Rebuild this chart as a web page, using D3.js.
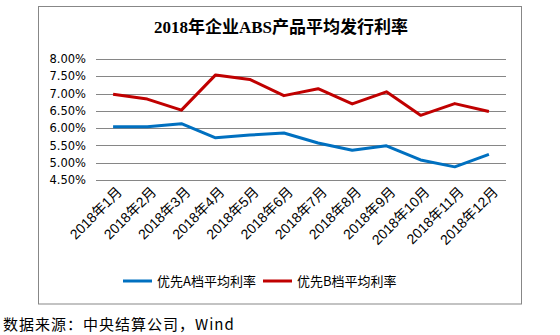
<!DOCTYPE html>
<html><head><meta charset="utf-8">
<script src="https://cdn.jsdelivr.net/npm/d3@7"></script>
<style>body{margin:0;background:#fff}svg{display:block}</style>
</head><body>
<svg id="c" width="560" height="335"></svg>
<script>
const categories = ["2018年1月","2018年2月","2018年3月","2018年4月","2018年5月","2018年6月","2018年7月","2018年8月","2018年9月","2018年10月","2018年11月","2018年12月"];
const seriesA = [6.04, 6.04, 6.13, 5.72, 5.80, 5.86, 5.57, 5.36, 5.49, 5.08, 4.88, 5.24];
const seriesB = [6.98, 6.84, 6.52, 7.54, 7.41, 6.94, 7.14, 6.70, 7.05, 6.37, 6.71, 6.48];
const yTicks = [4.5, 5.0, 5.5, 6.0, 6.5, 7.0, 7.5, 8.0];
const seriesNames = ["优先A档平均利率", "优先B档平均利率"];
const colors = ["#0070C0", "#C00000"];
const title = "2018年企业ABS产品平均发行利率";
const source = "数据来源：中央结算公司，Wind";

const svg = d3.select("#c");
svg.append("rect").attr("x",38.5).attr("y",6.5).attr("width",483).attr("height",297.5)
  .attr("fill","#fff").attr("stroke","#878787").attr("stroke-width",1);

svg.append("text").attr("x",281).attr("y",33).attr("text-anchor","middle")
  .attr("font-family","'Liberation Serif','Noto Sans CJK SC',serif").attr("font-weight","bold")
  .attr("font-size",17).attr("fill","#000").text(title);

const x = d3.scaleBand().domain(categories).range([96,506]);
const y = d3.scaleLinear().domain([4.5,8.0]).range([180,59]);

// gridlines
svg.append("g").selectAll("line").data(yTicks).join("line")
  .attr("x1",96).attr("x2",506).attr("y1",d=>Math.round(y(d))+0.5).attr("y2",d=>Math.round(y(d))+0.5)
  .attr("stroke","#868686").attr("stroke-width",1);

// y axis labels
const yAxis = d3.axisLeft(y).tickValues(yTicks).tickSize(0).tickPadding(0).tickFormat(d=>d.toFixed(2)+"%");
const gy = svg.append("g").attr("transform","translate(86,0)").call(yAxis);
gy.select(".domain").remove();
gy.selectAll("text").attr("font-family","'DejaVu Sans',sans-serif").attr("font-size",11.5).attr("fill","#000");

// x axis labels
const xAxis = d3.axisBottom(x).tickSize(0).tickPadding(0);
const gx = svg.append("g").attr("transform","translate(3,186)").call(xAxis);
gx.select(".domain").remove();
gx.selectAll("text").attr("font-family","'Liberation Sans','Noto Sans CJK SC',sans-serif").attr("font-size",14).attr("fill","#000")
  .attr("text-anchor","end").attr("dy","0.7em").attr("dx","0")
  .attr("transform","rotate(-45)");

const line = d3.line().x((d,i)=>x(categories[i])+x.bandwidth()/2).y(d=>y(d));
[seriesA, seriesB].forEach((s,k)=>{
  svg.append("path").datum(s).attr("d",line).attr("fill","none")
    .attr("stroke",colors[k]).attr("stroke-width",3).attr("stroke-linejoin","round");
});

// legend
const legX = [123, 263];
seriesNames.forEach((n,k)=>{
  const g = svg.append("g").attr("transform",`translate(${legX[k]},281)`);
  g.append("line").attr("x1",0).attr("x2",29).attr("y1",0).attr("y2",0).attr("stroke",colors[k]).attr("stroke-width",3);
  g.append("text").attr("x",34).attr("y",0).attr("dy","0.36em")
    .attr("font-family","'Noto Sans CJK SC',sans-serif").attr("font-size",13).attr("fill","#000").text(n);
});

svg.append("text").attr("x",3).attr("y",330)
  .attr("font-family","'Noto Sans CJK SC',sans-serif").attr("font-size",15).attr("letter-spacing",1)
  .attr("fill","#000").text(source);
</script>
</body></html>
